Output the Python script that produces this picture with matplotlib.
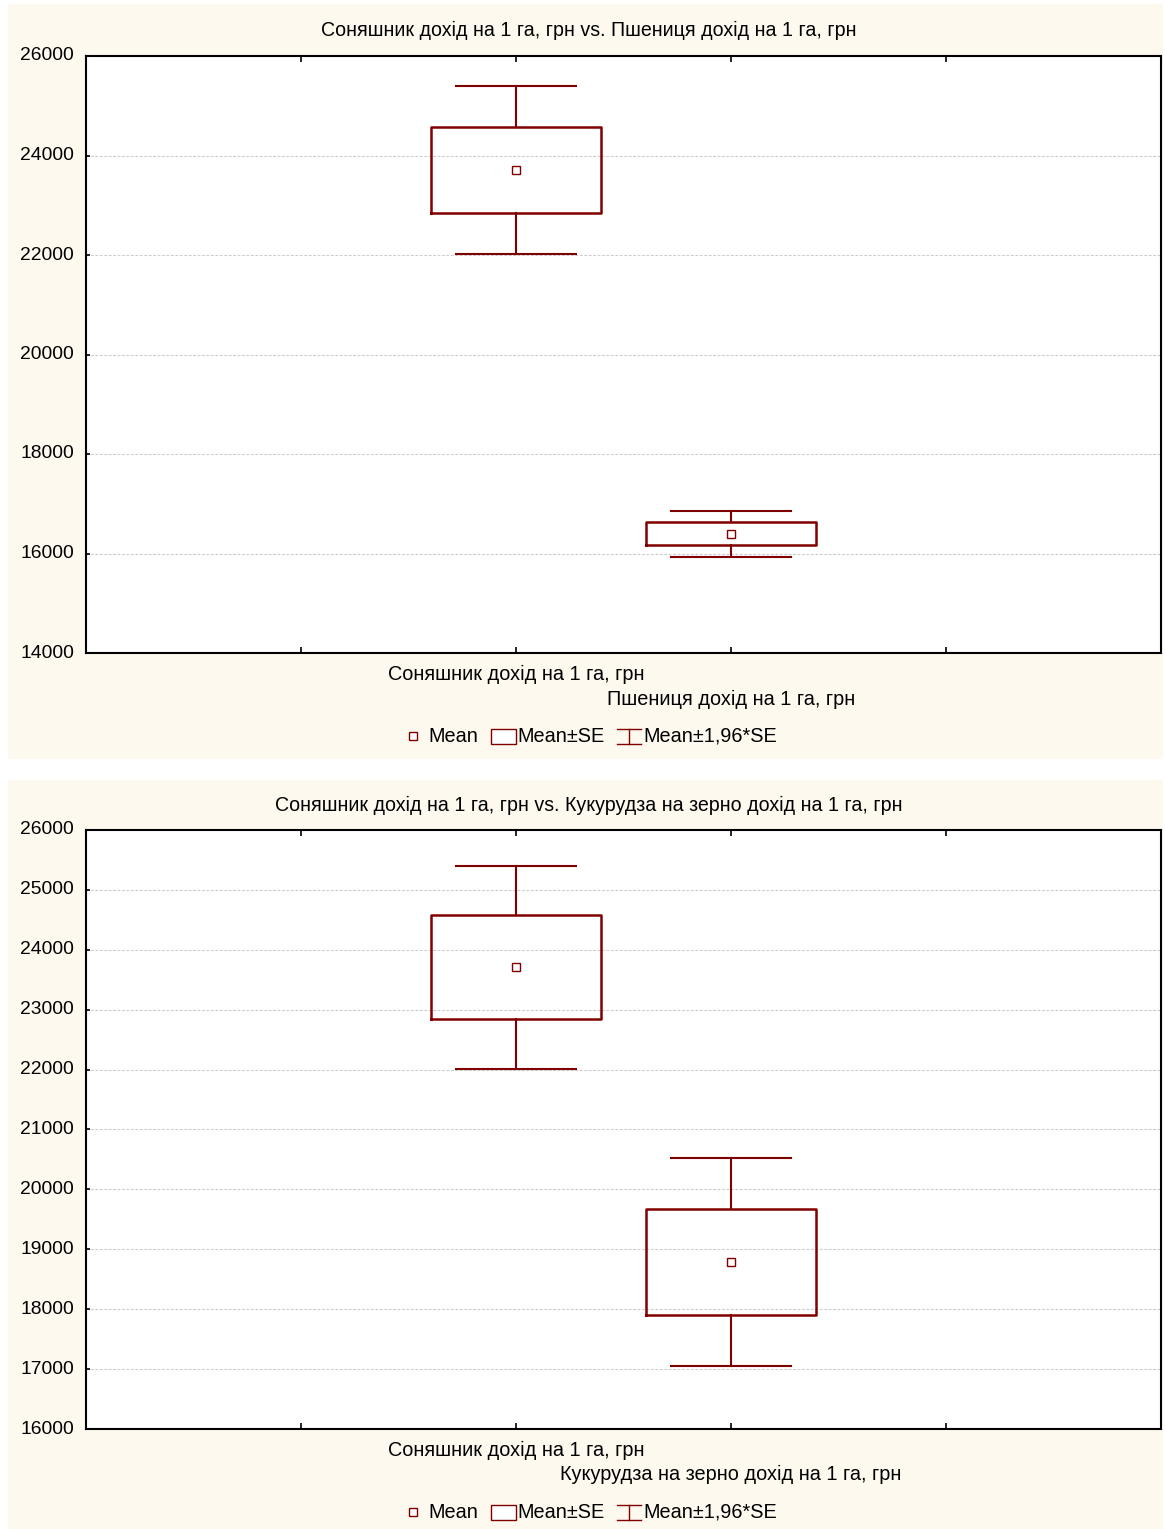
import matplotlib
matplotlib.use("Agg")
import matplotlib.pyplot as plt
import matplotlib.transforms as mtransforms
from matplotlib.patches import Rectangle
from matplotlib.lines import Line2D

plt.rcParams['font.family'] = ['Liberation Sans', 'DejaVu Sans']

# Means and standard errors of revenue per hectare (UAH)
base_label = "Соняшник дохід на 1 га, грн"
compare_labels = ["Пшениця дохід на 1 га, грн", "Кукурудза на зерно дохід на 1 га, грн"]
base_mean = 23710
base_se = 865
compare_means = [16400, 18790]
compare_ses = [235, 885]

y_limits = [(14000, 26000), (16000, 26000)]
y_steps = [2000, 1000]

W, H = 1165, 1529
DARK_RED = "#800000"
CREAM = "#FDF9EF"
FS = 14.3

fig = plt.figure(figsize=(W / 100, H / 100), dpi=100, facecolor="white")


def fx(px):
    return px / W


def fy(py):
    return 1 - py / H


# panel backgrounds
panels = [(8, 4, 1163, 759), (8, 780, 1163, 1529)]
for x0, y0, x1, y1 in panels:
    fig.patches.append(Rectangle((fx(x0), fy(y1)), fx(x1 - x0), (y1 - y0) / H,
                                 transform=fig.transFigure, facecolor=CREAM,
                                 edgecolor="none", zorder=-10))

axes_px = [(86, 56, 1161, 653), (86, 830, 1161, 1429)]
title_y = [30, 805]
lab1_y = [674, 1450]
lab2_y = [699, 1474]
legend_y = [736, 1512]

for i in range(2):
    x0, y0, x1, y1 = axes_px[i]
    ax = fig.add_axes([fx(x0), fy(y1), fx(x1 - x0), (y1 - y0) / H])
    ax.set_facecolor("white")

    means = [base_mean, compare_means[i]]
    ses = [base_se, compare_ses[i]]
    stats = []
    for m, s in zip(means, ses):
        stats.append(dict(med=m, mean=m, q1=m - s, q3=m + s,
                          whislo=m - 1.96 * s, whishi=m + 1.96 * s, fliers=[]))
    ax.bxp(stats, positions=[2, 3], widths=0.79, capwidths=0.56,
           showmeans=True, showfliers=False,
           boxprops=dict(color=DARK_RED, linewidth=1.8),
           whiskerprops=dict(color=DARK_RED, linewidth=1.5),
           capprops=dict(color=DARK_RED, linewidth=1.5),
           medianprops=dict(linewidth=0),
           meanprops=dict(marker="s", markersize=5.8, markerfacecolor="white",
                          markeredgecolor=DARK_RED, markeredgewidth=1.0))

    lo, hi = y_limits[i]
    ax.set_xlim(0, 5)
    ax.set_ylim(lo, hi)
    ax.set_xticks([1, 2, 3, 4])
    ax.set_xticklabels([])
    ax.tick_params(axis="x", direction="in", length=4, width=1.2,
                   top=True, bottom=True, color="black")
    ax.set_yticks(list(range(lo, hi + 1, y_steps[i])))
    ax.tick_params(axis="y", direction="in", length=3, width=1.2, pad=8.5, labelsize=13.9)
    shift = mtransforms.ScaledTranslation(0, 2 / 100, fig.dpi_scale_trans)
    for lbl in ax.get_yticklabels():
        lbl.set_transform(lbl.get_transform() + shift)
    for sp in ax.spines.values():
        sp.set_linewidth(1.5)
        sp.set_color("black")
    for yv in range(lo + y_steps[i], hi, y_steps[i]):
        ax.axhline(yv, color="#cccccc", linewidth=0.8, linestyle=(0, (2.5, 1.5)), zorder=0)

    fig.text(fx(589), fy(title_y[i]), f"{base_label} vs. {compare_labels[i]}",
             ha="center", va="center", fontsize=14.1)
    # category labels under their tick positions
    fig.text(fx(516), fy(lab1_y[i]), base_label, ha="center", va="center", fontsize=FS)
    fig.text(fx(731), fy(lab2_y[i]), compare_labels[i], ha="center", va="center", fontsize=FS)

    # legend
    ly = legend_y[i]
    fig.add_artist(Line2D([fx(413)], [fy(ly)], marker="s", markersize=5.8,
                          markerfacecolor="white", markeredgecolor=DARK_RED,
                          markeredgewidth=1.0, transform=fig.transFigure))
    fig.text(fx(428), fy(ly), "Mean", ha="left", va="center", fontsize=FS)
    fig.patches.append(Rectangle((fx(491), fy(ly + 8)), fx(25), 15 / H,
                                 transform=fig.transFigure, facecolor="white",
                                 edgecolor=DARK_RED, linewidth=1.0))
    fig.text(fx(517), fy(ly), "Mean±SE", ha="left", va="center", fontsize=FS)
    fig.add_artist(Line2D([fx(617), fx(641)], [fy(ly - 7), fy(ly - 7)], color=DARK_RED,
                          linewidth=1.0, transform=fig.transFigure))
    fig.add_artist(Line2D([fx(617), fx(641)], [fy(ly + 8), fy(ly + 8)], color=DARK_RED,
                          linewidth=1.0, transform=fig.transFigure))
    fig.add_artist(Line2D([fx(629), fx(629)], [fy(ly - 7), fy(ly + 8)], color=DARK_RED,
                          linewidth=1.0, transform=fig.transFigure))
    fig.text(fx(643), fy(ly), "Mean±1,96*SE", ha="left", va="center", fontsize=FS)

fig.savefig("out.png", dpi=100, facecolor="white")
